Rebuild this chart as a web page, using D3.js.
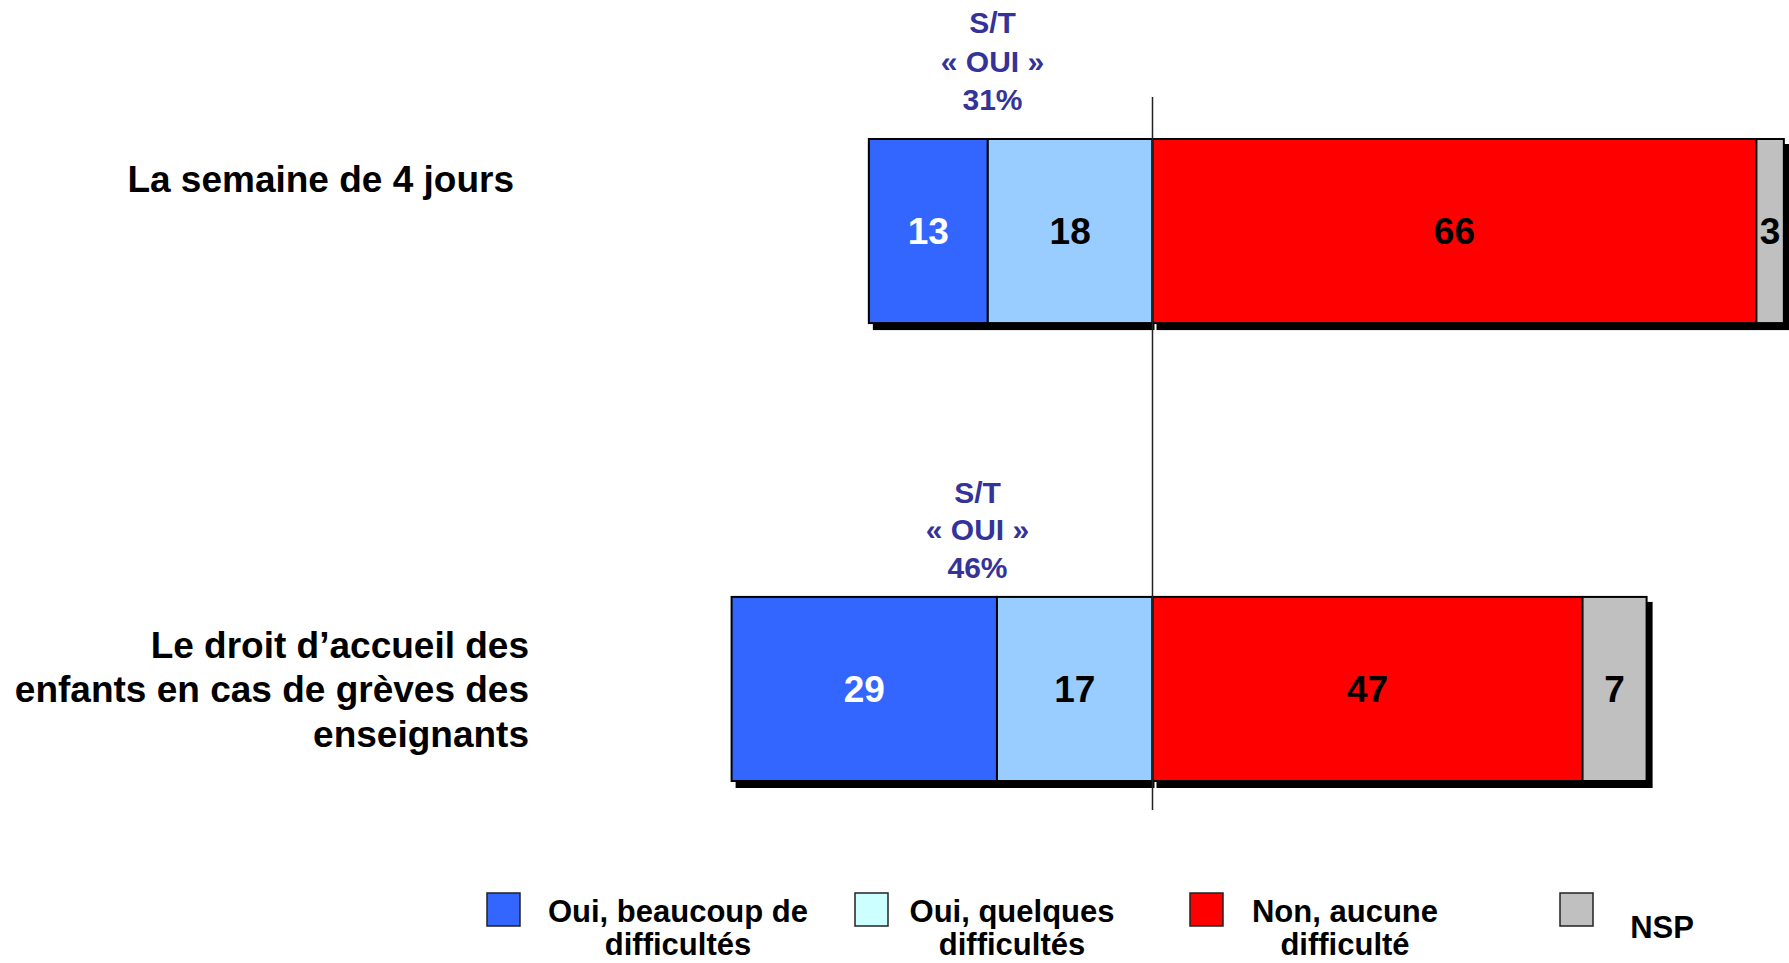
<!DOCTYPE html>
<html>
<head>
<meta charset="utf-8">
<script src="https://cdn.jsdelivr.net/npm/d3@7"></script>
<style>
  body { margin: 0; background: #fff; }
  svg { display: block; font-family: "Liberation Sans", Arial, sans-serif; font-weight: bold; }
</style>
</head>
<body>
<svg id="chart" width="1789" height="963"></svg>
<script>
// data
var categories = ["La semaine de 4 jours", "Le droit d’accueil des enfants en cas de grèves des enseignants"];
var categoryLines = [["La semaine de 4 jours"], ["Le droit d’accueil des", "enfants en cas de grèves des", "enseignants"]];
var seriesNames = ["Oui, beaucoup de difficultés", "Oui, quelques difficultés", "Non, aucune difficulté", "NSP"];
var legendLines = [["Oui, beaucoup de", "difficultés"], ["Oui, quelques", "difficultés"], ["Non, aucune", "difficulté"], ["NSP"]];
var beaucoup = [13, 29];
var quelques = [18, 17];
var aucune = [66, 47];
var nsp = [3, 7];
var totalOui = [31, 46];

var barColors = ["#3366FF", "#99CCFF", "#FF0000", "#C0C0C0"];
var legendColors = ["#3366FF", "#CCFFFF", "#FF0000", "#C0C0C0"];
var labelColors = ["#fff", "#000", "#000", "#000"];

var svg = d3.select("#chart");

var x = d3.scaleLinear().domain([-50, 70]).range([695, 1793]);
var y = d3.scaleBand().domain(categories).range([139, 781]).paddingInner(0.598).paddingOuter(0);
var bh = y.bandwidth();

// build segments: negative side (oui) then positive side (non, nsp)
var rows = categories.map(function(c, i) {
    var segs = [];
    var left = -(beaucoup[i] + quelques[i]);
    segs.push({s: 0, v: beaucoup[i], x0: left, x1: left + beaucoup[i]});
    segs.push({s: 1, v: quelques[i], x0: left + beaucoup[i], x1: 0});
    segs.push({s: 2, v: aucune[i], x0: 0, x1: aucune[i]});
    segs.push({s: 3, v: nsp[i], x0: aucune[i], x1: aucune[i] + nsp[i]});
    return {cat: c, i: i, segs: segs, min: left, max: aucune[i] + nsp[i]};
});

// shadows, one per side of the zero line
var shadows = svg.append("g");
rows.forEach(function(r) {
    shadows.append("rect")
        .attr("x", x(r.min) + 4).attr("y", y(r.cat) + 5)
        .attr("width", x(0) - x(r.min) - 2).attr("height", bh + 2)
        .attr("fill", "#000");
    shadows.append("rect")
        .attr("x", x(0) + 4).attr("y", y(r.cat) + 5)
        .attr("width", x(r.max) - x(0) + 2).attr("height", bh + 2)
        .attr("fill", "#000");
});

var rowG = svg.selectAll("g.row").data(rows).enter().append("g").attr("class", "row");

rowG.selectAll("rect.seg").data(function(d) { return d.segs.map(function(s) { s.cat = d.cat; return s; }); })
    .enter().append("rect").attr("class", "seg")
    .attr("x", function(d) { return x(d.x0); })
    .attr("y", function(d) { return y(d.cat); })
    .attr("width", function(d) { return x(d.x1) - x(d.x0); })
    .attr("height", bh)
    .attr("fill", function(d) { return barColors[d.s]; })
    .attr("stroke", "#000")
    .attr("stroke-width", 2);

rowG.selectAll("text.val").data(function(d) { return d.segs; })
    .enter().append("text").attr("class", "val")
    .attr("x", function(d) { return (x(d.x0) + x(d.x1)) / 2; })
    .attr("y", function(d) { return y(d.cat) + bh / 2 + 13; })
    .attr("text-anchor", "middle")
    .attr("font-size", "37px")
    .attr("fill", function(d) { return labelColors[d.s]; })
    .text(function(d) { return d.v; });

// zero line
svg.append("line")
    .attr("x1", x(0)).attr("x2", x(0))
    .attr("y1", 97).attr("y2", 810)
    .attr("stroke", "#222").attr("stroke-width", 1.5);

// S/T annotations
var stLayout = [{dx: -160, base: [33, 72, 110]}, {dx: -175, base: [503, 540, 578]}];
rows.forEach(function(r, i) {
    var lines = ["S/T", "« OUI »", totalOui[i] + "%"];
    var t = svg.append("text")
        .attr("text-anchor", "middle")
        .attr("font-size", "30px")
        .attr("fill", "#333399");
    lines.forEach(function(l, k) {
        t.append("tspan").attr("x", x(0) + stLayout[i].dx).attr("y", stLayout[i].base[k]).text(l);
    });
});

// category labels
var catLayout = [{right: 514, base: [192]}, {right: 529, base: [658, 702, 747]}];
categoryLines.forEach(function(lines, i) {
    var t = svg.append("text")
        .attr("text-anchor", "end")
        .attr("font-size", "37px")
        .attr("fill", "#000");
    lines.forEach(function(l, k) {
        t.append("tspan").attr("x", catLayout[i].right).attr("y", catLayout[i].base[k]).text(l);
    });
});

// legend
var legendBox = [487, 855, 1190, 1560];
var legendText = [678, 1012, 1345, 1662];
seriesNames.forEach(function(n, i) {
    svg.append("rect")
        .attr("x", legendBox[i]).attr("y", 893)
        .attr("width", 33).attr("height", 33)
        .attr("fill", legendColors[i])
        .attr("stroke", "#222").attr("stroke-width", 1.5);
    var t = svg.append("text")
        .attr("text-anchor", "middle")
        .attr("font-size", "31px")
        .attr("fill", "#000");
    var lines = legendLines[i];
    lines.forEach(function(l, k) {
        var by = lines.length == 1 ? 938 : 922 + k * 33;
        t.append("tspan").attr("x", legendText[i]).attr("y", by).text(l);
    });
});
</script>
</body>
</html>
